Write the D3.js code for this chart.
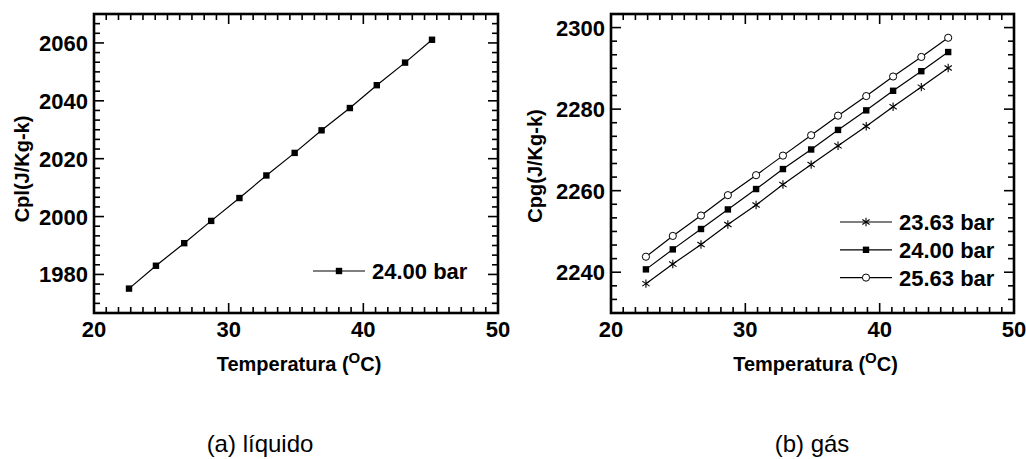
<!DOCTYPE html>
<html>
<head>
<meta charset="utf-8">
<script src="https://cdn.jsdelivr.net/npm/d3@7"></script>
<style>
  html, body { margin: 0; padding: 0; background: #fff; }
  svg { display: block; }
  text { font-family: "Liberation Sans", Arial, sans-serif; fill: #000; }
</style>
</head>
<body>
<svg id="chart" width="1026" height="459"></svg>
<script>
// Temperature of each measurement (°C)
const tempC = [22.6, 24.6, 26.7, 28.7, 30.8, 32.8, 34.9, 36.9, 39.0, 41.0, 43.1, 45.1];

// Liquid specific heat at 24.00 bar (J/Kg-k)
const cplLiquid2400 = [1975.1, 1983.0, 1990.8, 1998.5, 2006.4, 2014.2, 2022.0, 2029.8, 2037.5, 2045.4, 2053.2, 2061.1];

// Gas specific heat (J/Kg-k) at three pressures
const cpgGas2363 = [2237.2, 2242.0, 2246.8, 2251.7, 2256.5, 2261.5, 2266.4, 2271.0, 2275.8, 2280.6, 2285.4, 2290.1];
const cpgGas2400 = [2240.7, 2245.6, 2250.6, 2255.4, 2260.4, 2265.3, 2270.1, 2274.9, 2279.7, 2284.5, 2289.3, 2294.0];
const cpgGas2563 = [2243.8, 2248.9, 2253.9, 2258.9, 2263.8, 2268.6, 2273.6, 2278.4, 2283.2, 2288.0, 2292.8, 2297.5];

// Axis ranges and tick labels
const xDomain = [20, 50];
const xTicks = [20, 30, 40, 50];
const yDomainLiquid = [1966.67, 2070];
const yTicksLiquid = [1980, 2000, 2020, 2040, 2060];
const yDomainGas = [2230, 2303.33];
const yTicksGas = [2240, 2260, 2280, 2300];

const xTitleMain = "Temperatura (";
const xTitleSup = "O";
const xTitleEnd = "C)";

const svg = d3.select("#chart");

function markerPath(g, type, cx, cy) {
  if (type === "square") {
    g.append("rect").attr("x", cx - 3.2).attr("y", cy - 3.2)
      .attr("width", 6.4).attr("height", 6.4).attr("fill", "#000");
  } else if (type === "circle") {
    g.append("circle").attr("cx", cx).attr("cy", cy).attr("r", 3.6)
      .attr("fill", "#fff").attr("stroke", "#000").attr("stroke-width", 1);
  } else if (type === "star") {
    const r = 4.2;
    const d = [
      [0, -r, 0, r],
      [-r * 0.87, -r * 0.6, r * 0.87, r * 0.6],
      [-r * 0.87, r * 0.6, r * 0.87, -r * 0.6]
    ];
    d.forEach(s => g.append("line")
      .attr("x1", cx + s[0]).attr("y1", cy + s[1])
      .attr("x2", cx + s[2]).attr("y2", cy + s[3])
      .attr("stroke", "#000").attr("stroke-width", 1.1));
  }
}

function drawPanel(cfg) {
  const { left, top, right, bottom } = cfg.frame;
  const x = d3.scaleLinear().domain(xDomain).range([left, right]);
  const y = d3.scaleLinear().domain(cfg.yDomain).range([bottom, top]);
  const g = svg.append("g");

  // x minor ticks: ten between each pair of majors
  const xMinor = [];
  for (let i = 0; i < xTicks.length - 1; i++) {
    const a = xTicks[i], b = xTicks[i + 1];
    for (let k = 1; k <= 10; k++) xMinor.push(a + (b - a) * k / 11);
  }
  // y minor ticks: five between each pair of majors
  const yStep = cfg.yTicks[1] - cfg.yTicks[0];
  const yMinor = [];
  for (let v = cfg.yTicks[0] - yStep; v <= cfg.yDomain[1] + 0.01; v += yStep) {
    for (let k = 1; k <= 5; k++) {
      const m = v + yStep * k / 6;
      if (m >= cfg.yDomain[0] - 0.01 && m <= cfg.yDomain[1] + 0.01) yMinor.push(m);
    }
  }

  const majorLen = 10, minorLen = 6;
  const tickG = g.append("g").attr("stroke", "#000").attr("stroke-width", 1.6);
  // bottom and top
  xTicks.forEach(v => {
    tickG.append("line").attr("x1", x(v)).attr("x2", x(v)).attr("y1", bottom).attr("y2", bottom - majorLen);
    tickG.append("line").attr("x1", x(v)).attr("x2", x(v)).attr("y1", top).attr("y2", top + majorLen);
  });
  xMinor.forEach(v => {
    tickG.append("line").attr("x1", x(v)).attr("x2", x(v)).attr("y1", bottom).attr("y2", bottom - minorLen);
    tickG.append("line").attr("x1", x(v)).attr("x2", x(v)).attr("y1", top).attr("y2", top + minorLen);
  });
  // left and right
  cfg.yTicks.forEach(v => {
    tickG.append("line").attr("y1", y(v)).attr("y2", y(v)).attr("x1", left).attr("x2", left + majorLen);
    tickG.append("line").attr("y1", y(v)).attr("y2", y(v)).attr("x1", right).attr("x2", right - majorLen);
  });
  yMinor.forEach(v => {
    tickG.append("line").attr("y1", y(v)).attr("y2", y(v)).attr("x1", left).attr("x2", left + minorLen);
    tickG.append("line").attr("y1", y(v)).attr("y2", y(v)).attr("x1", right).attr("x2", right - minorLen);
  });

  // frame
  g.append("rect").attr("x", left).attr("y", top)
    .attr("width", right - left).attr("height", bottom - top)
    .attr("fill", "none").attr("stroke", "#000").attr("stroke-width", 2.6);

  // tick labels
  g.selectAll(".xl").data(xTicks).join("text")
    .attr("x", d => x(d)).attr("y", bottom + 24)
    .attr("text-anchor", "middle").attr("font-size", 22).attr("font-weight", "bold")
    .text(d => d);
  g.selectAll(".yl").data(cfg.yTicks).join("text")
    .attr("x", left - 6).attr("y", d => y(d) + 8)
    .attr("text-anchor", "end").attr("font-size", 22).attr("font-weight", "bold")
    .text(d => d);

  // axis titles
  const xt = g.append("text").attr("x", (left + right) / 2 + 3).attr("y", bottom + 58)
    .attr("text-anchor", "middle").attr("font-size", 20).attr("font-weight", "bold");
  xt.append("tspan").text(xTitleMain);
  xt.append("tspan").attr("font-size", 15).attr("dy", -8).text(xTitleSup);
  xt.append("tspan").attr("dy", 8).text(xTitleEnd);

  g.append("text")
    .attr("transform", `translate(${cfg.yTitleX},${cfg.yTitleY}) rotate(-90)`)
    .attr("text-anchor", "middle").attr("font-size", 20).attr("font-weight", "bold")
    .text(cfg.yTitle);

  // series
  const line = d3.line().x((d, i) => x(tempC[i])).y(d => y(d));
  cfg.series.forEach(s => {
    g.append("path").datum(s.values).attr("d", line)
      .attr("fill", "none").attr("stroke", "#000").attr("stroke-width", 1.2);
    const mg = g.append("g");
    s.values.forEach((v, i) => markerPath(mg, s.marker, x(tempC[i]), y(v)));
  });

  // legend
  cfg.series.forEach((s, i) => {
    const ly = cfg.legend.y + cfg.legend.dy * (cfg.legend.order[i]);
    const lx = cfg.legend.x;
    g.append("line").attr("x1", lx).attr("x2", lx + 52).attr("y1", ly).attr("y2", ly)
      .attr("stroke", "#000").attr("stroke-width", 1.2);
    markerPath(g, s.marker, lx + 26, ly);
    g.append("text").attr("x", lx + 59).attr("y", ly + 8)
      .attr("font-size", 22).attr("font-weight", "bold").text(s.label);
  });

  // caption
  svg.append("text").attr("x", cfg.captionX).attr("y", 452)
    .attr("text-anchor", "middle").attr("font-size", 24).text(cfg.caption);
}

drawPanel({
  frame: { left: 94, top: 14, right: 498, bottom: 313 },
  yDomain: yDomainLiquid,
  yTicks: yTicksLiquid,
  yTitle: "Cpl(J/Kg-k)",
  yTitleX: 29, yTitleY: 169,
  series: [{ values: cplLiquid2400, marker: "square", label: "24.00 bar" }],
  legend: { x: 313, y: 271, dy: 0, order: [0] },
  caption: "(a) líquido", captionX: 260
});

drawPanel({
  frame: { left: 611, top: 14, right: 1014, bottom: 313 },
  yDomain: yDomainGas,
  yTicks: yTicksGas,
  yTitle: "Cpg(J/Kg-k)",
  yTitleX: 542, yTitleY: 166,
  series: [
    { values: cpgGas2363, marker: "star", label: "23.63 bar" },
    { values: cpgGas2400, marker: "square", label: "24.00 bar" },
    { values: cpgGas2563, marker: "circle", label: "25.63 bar" }
  ],
  legend: { x: 840, y: 222, dy: 27.8, order: [0, 1, 2] },
  caption: "(b) gás", captionX: 812
});
</script>
</body>
</html>
